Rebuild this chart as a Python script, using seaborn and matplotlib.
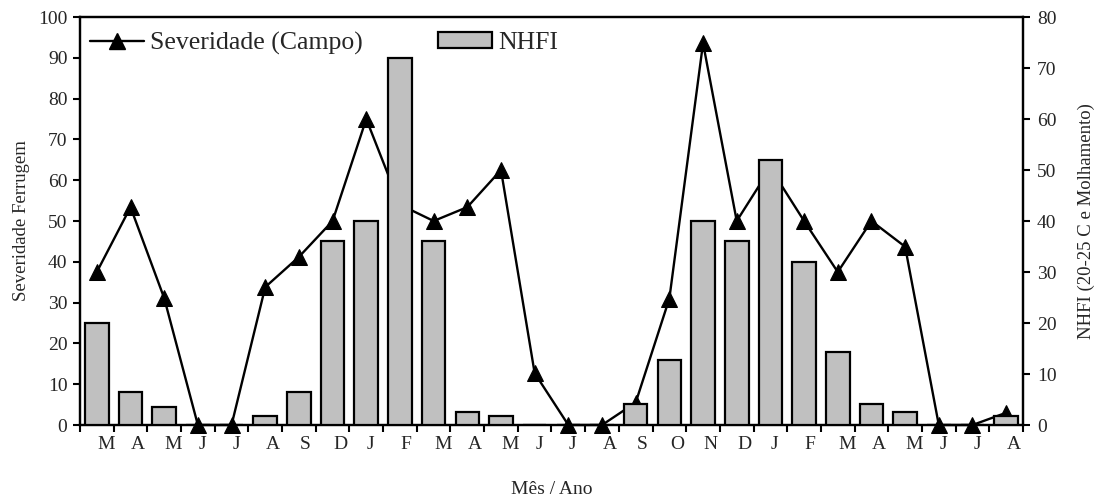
import matplotlib
matplotlib.use("Agg")
import matplotlib.pyplot as plt
import seaborn as sns
import numpy as np
import pandas as pd
from matplotlib.lines import Line2D
from matplotlib.patches import Patch

months = ["M", "A", "M", "J", "J", "A", "S", "D", "J", "F", "M", "A", "M", "J",
          "J", "A", "S", "O", "N", "D", "J", "F", "M", "A", "M", "J", "J", "A"]
severidade = [37.5, 53.4, 31.1, 0, 0, 33.8, 41.2, 50, 75, 54, 50, 53.4, 62.5, 12.7,
              0, 0, 5.5, 31, 93.6, 50, 63, 50, 37.5, 50, 43.7, 0, 0, 3]
nhfi = [20, 6.4, 3.5, 0, 0, 1.8, 6.4, 36, 40, 72, 36, 2.5, 1.8, 0,
        0, 0, 4.1, 12.8, 40, 36, 52, 32, 14.4, 4.1, 2.5, 0, 0, 1.8]

idx = list(range(len(months)))
df = pd.DataFrame({"pos": idx, "sev": severidade, "nhfi": nhfi})

sns.set_theme(style="white")
plt.rcParams["font.family"] = ["Liberation Serif", "DejaVu Serif"]

fig = plt.figure(figsize=(10.97, 5.03), dpi=100)
ax = fig.add_axes([80 / 1097, 78 / 503, 943 / 1097, 408 / 503])
ax2 = ax.twinx()

sns.lineplot(data=df, x="pos", y="sev", ax=ax, color="black", linewidth=1.7,
             marker="^", markersize=11, markeredgecolor="black",
             markerfacecolor="black", clip_on=False, zorder=2)
sns.barplot(data=df, x="pos", y="nhfi", ax=ax2, color="#c0c0c0",
            edgecolor="black", linewidth=1.6, width=0.7, saturation=1,
            zorder=3)

ax.set_xlim(-0.5, len(months) - 0.5)
ax.set_ylim(0, 100)
ax2.set_ylim(0, 80)
ax2.set_xlim(-0.5, len(months) - 0.5)

ax.set_yticks(np.arange(0, 101, 10))
ax2.set_yticks(np.arange(0, 81, 10))

# x ticks at category boundaries, labels slightly right of centers
ax.set_xticks(np.arange(0, len(months) + 1) - 0.5, minor=True)
ax.set_xticks(np.array(idx) + 0.02)
ax.set_xticklabels(months, ha="left")
ax.tick_params(axis="x", which="major", length=0, pad=8, labelsize=14)
ax.tick_params(axis="x", which="minor", length=5, width=1.5, direction="out",
               color="black", bottom=True)
ax2.tick_params(axis="x", which="both", bottom=False, labelbottom=False)
ax.tick_params(axis="y", length=5, width=1.5, direction="out", color="black",
               labelsize=14, left=True, pad=4)
ax2.tick_params(axis="y", length=5, width=1.5, direction="out", color="black",
                labelsize=14, right=True, pad=5)

for a in (ax, ax2):
    for s in a.spines.values():
        s.set_visible(True)
        s.set_color("black")
        s.set_linewidth(1.6)

ax.set_xlabel("Mês / Ano", fontsize=14, labelpad=20)
ax.set_ylabel("Severidade Ferrugem", fontsize=13.5, labelpad=6)
ax2.set_ylabel("NHFI (20-25 C e Molhamento)", fontsize=13.5, labelpad=15)
ax2.set_xlabel("")
ax2.grid(False)
ax.grid(False)

handles = [Line2D([0], [0], color="black", linewidth=1.7, marker="^",
                  markersize=11, markerfacecolor="black"),
           Patch(facecolor="#c0c0c0", edgecolor="black", linewidth=1.6)]
leg = ax2.legend(handles, ["Severidade (Campo)", "NHFI"], ncol=2,
                 loc="center left", bbox_to_anchor=(10 / 943, 1 - 26 / 408),
                 frameon=False, fontsize=18.5, borderpad=0, borderaxespad=0,
                 handlelength=2.1, handleheight=0.55, handletextpad=0.25,
                 columnspacing=2.9, markerscale=1.0)

fig.savefig("out.png", dpi=100)
